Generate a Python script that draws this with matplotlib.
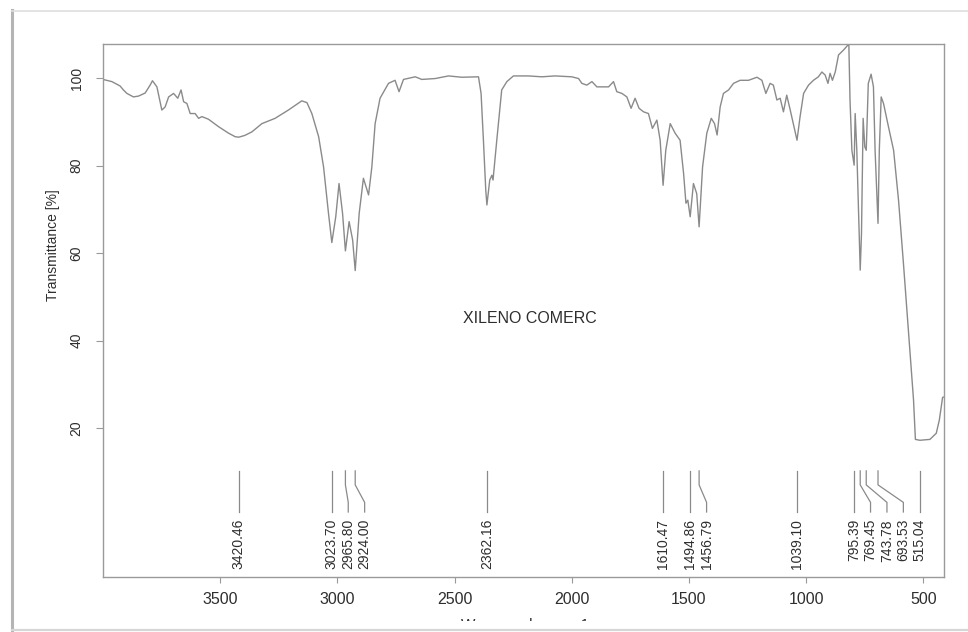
import matplotlib
matplotlib.use("Agg")

import matplotlib.pyplot as plt
from matplotlib.lines import Line2D
from matplotlib.transforms import Bbox, TransformedBbox
import numpy as np

plt.rcParams["font.family"] = ["Liberation Sans", "DejaVu Sans"]

# IR spectrum, wavenumber (cm-1) vs transmittance (%)
wavenumber = [
    4000, 3962, 3927, 3913, 3898, 3870, 3848, 3820, 3799, 3789, 3770, 3749,
    3735, 3720, 3699, 3681, 3667, 3656, 3642, 3628, 3607, 3592, 3578, 3550,
    3507, 3464, 3436, 3420.46, 3395, 3365, 3322, 3266, 3209, 3152, 3130, 3109,
    3080, 3059, 3038, 3023.70, 3007, 2993, 2978, 2965.80, 2950, 2935, 2924.00,
    2907, 2889, 2867, 2853, 2839, 2818, 2782, 2754, 2737, 2718, 2668, 2640,
    2583, 2526, 2469, 2398, 2387, 2377, 2367, 2362.16, 2350, 2341, 2336, 2320,
    2299, 2277, 2249, 2185, 2128, 2071, 2000, 1971, 1957, 1936, 1914, 1893,
    1872, 1843, 1822, 1808, 1786, 1765, 1747, 1730, 1713, 1694, 1673, 1656,
    1637, 1623, 1610.47, 1599, 1580, 1559, 1538, 1523, 1513, 1505, 1494.86,
    1481, 1467, 1456.79, 1442, 1424, 1405, 1391, 1380, 1367, 1353, 1331, 1310,
    1282, 1246, 1210, 1189, 1172, 1154, 1140, 1125, 1111, 1097, 1083, 1068,
    1039.10, 1026, 1011, 990, 969, 948, 933, 919, 907, 898, 888, 876, 862,
    841, 818, 813, 805, 795.39, 791, 784, 774, 769.45, 764, 757, 750, 743.78,
    735, 723, 713, 706, 693.53, 688, 680, 670, 649, 627, 606, 584, 563, 542,
    534, 515.04, 472, 445, 432, 418, 412,
]
transmittance = [
    99.7, 99.2, 98.2, 97.3, 96.5, 95.7, 95.9, 96.6, 98.4, 99.4, 98.0, 92.7,
    93.4, 95.7, 96.5, 95.4, 97.3, 94.6, 94.2, 91.9, 91.9, 90.8, 91.2, 90.6,
    88.9, 87.4, 86.6, 86.5, 86.9, 87.7, 89.6, 90.8, 92.7, 94.8, 94.4, 91.9,
    86.6, 79.7, 69.1, 62.4, 68.3, 75.9, 69.1, 60.5, 67.2, 63.0, 56.0,
    69.1, 77.1, 73.3, 79.7, 89.6, 95.4, 98.8, 99.5, 96.9, 99.7, 100.3, 99.7,
    99.9, 100.5, 100.2, 100.3, 96.5, 85.8, 74.4, 71.0, 76.7, 77.8, 76.7, 85.8,
    97.3, 99.2, 100.5, 100.5, 100.3, 100.5, 100.3, 99.9, 98.8, 98.4, 99.2, 98.0,
    98.0, 98.0, 99.2, 96.9, 96.5, 95.7, 93.1, 95.4, 93.1, 92.3, 91.9, 88.5,
    90.4, 85.8, 75.5, 83.5, 89.6, 87.4, 85.8, 78.2, 71.4, 72.1, 68.3,
    75.9, 73.6, 66.0, 79.7, 87.4, 90.8, 89.6, 87.0, 93.4, 96.5, 97.3, 98.8,
    99.5, 99.5, 100.2, 99.5, 96.5, 98.8, 98.4, 95.0, 95.4, 92.3, 96.1, 92.7,
    85.8, 91.2, 96.5, 98.4, 99.5, 100.3, 101.4, 100.7, 98.8, 101.1, 99.5, 101.4, 105.3,
    106.4, 107.8, 95.0, 83.5, 80.1, 91.9, 83.5, 64.5, 56.1, 64.5, 90.8, 84.3, 83.5,
    98.8, 100.9, 98.0, 83.5, 66.8, 83.5, 95.7, 94.2, 88.9, 83.5, 72.1, 56.9, 41.6, 26.4,
    17.4, 17.2, 17.4, 18.8, 21.8, 27.0, 27.1,
]

peaks = [3420.46, 3023.70, 2965.80, 2924.00, 2362.16, 1610.47, 1494.86,
         1456.79, 1039.10, 795.39, 769.45, 743.78, 693.53, 515.04]

sample_name = "XILENO COMERC"
x_ticks = [3500, 3000, 2500, 2000, 1500, 1000, 500]
y_ticks = [20, 40, 60, 80, 100]

W, H = 968, 632
fig = plt.figure(figsize=(W / 100, H / 100), dpi=100)
fig.patch.set_facecolor("white")

# axes box in pixels: left 103, right 944, top 44, bottom 577
ax = fig.add_axes([103 / W, 1 - 577 / H, 841 / W, 533 / H])
frame_col = "#9a9a9a"
text_col = "#2e2e2e"
ax.plot(wavenumber, transmittance, color="#8a8a8a", lw=1.0)
ax.set_xlim(4000, 412)
ax.set_ylim(-14.06, 107.8)

for s in ax.spines.values():
    s.set_color(frame_col)
    s.set_linewidth(1.0)

ax.set_xticks(x_ticks)
ax.set_yticks(y_ticks)
ax.tick_params(axis="x", length=4.5, width=0.8, color=frame_col,
               labelsize=11.5, labelcolor=text_col, pad=6)
ax.tick_params(axis="y", length=5, width=0.8, color=frame_col,
               labelsize=10, labelcolor=text_col, pad=9)
plt.setp(ax.get_yticklabels(), rotation=90, va="center")

# y label sits higher than the axes centre
fig.text(53 / W, 1 - 245 / H, "Transmittance [%]", rotation=90,
         ha="center", va="center", fontsize=10, color=text_col)

ax.text(2180, 45.1, sample_name, ha="center", va="center",
        fontsize=11.5, color=text_col)


# peak labels: push text apart so neighbours don't overlap
def spread(pos, gap):
    out = []
    for p in pos:
        if out and out[-1] - p < gap:
            p = out[-1] - gap
        out.append(p)
    return out


label_x = spread(peaks, 70)
y_top, y_bend1, y_bend2, y_bot = 10.2, 7.0, 3.0, 0.8
for pk, lx in zip(peaks, label_x):
    ax.plot([pk, pk, lx, lx], [y_top, y_bend1, y_bend2, y_bot],
            color="#8a8a8a", lw=0.9)
    ax.text(lx, -0.8, f"{pk:.2f}", rotation=90, ha="center", va="top",
            fontsize=10, color=text_col)

# x label cut off at the lower edge of the scan
xl = fig.text(525 / W, 1 - 618 / H, "Wavenumber cm-1", ha="center", va="top",
              fontsize=11, color=text_col)
xl.set_clip_box(TransformedBbox(Bbox([[0, 1 - 621 / H], [1, 1]]), fig.transFigure))
xl.set_clip_on(True)

# page border around the scan
fig.add_artist(Line2D([12 / W, 12 / W], [0, 1 - 10 / H], transform=fig.transFigure,
                      color="#b4b4b4", lw=2.2))
fig.add_artist(Line2D([12 / W, 1], [1 - 10.5 / H, 1 - 10.5 / H], transform=fig.transFigure,
                      color="#dedede", lw=1.2))
fig.add_artist(Line2D([12 / W, 1], [1 - 630 / H, 1 - 630 / H], transform=fig.transFigure,
                      color="#d6d6d6", lw=1.6))

fig.savefig("out.png", dpi=100)
